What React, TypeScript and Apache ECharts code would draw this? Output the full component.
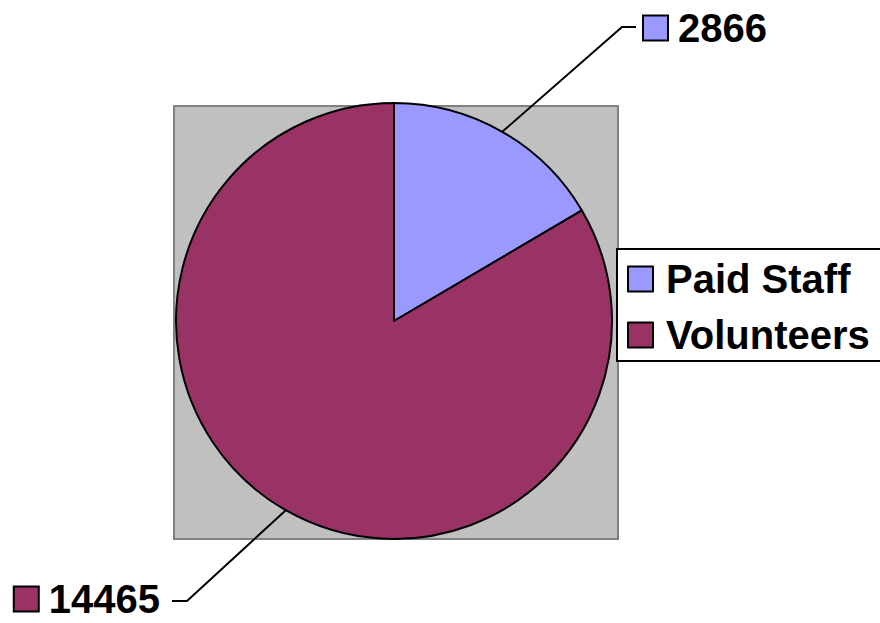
import React, { useEffect, useRef } from "react";
import * as echarts from "echarts";

const categories = ["Paid Staff", "Volunteers"];
const values = [2866, 14465];
const colors = ["#9999FF", "#993366"];

const FONT = "'Liberation Sans', Arial, sans-serif";

export default function App() {
  const ref = useRef<HTMLDivElement>(null);
  useEffect(() => {
    if (!ref.current) return;
    const chart = echarts.init(ref.current, null, { renderer: "svg" });
    const data = categories.map((name, i) => ({
      name,
      value: values[i],
      itemStyle: { color: colors[i] },
    }));
    const rich: any = {
      gap: { width: 11 },
      v: { fontSize: 40, fontWeight: "bold", color: "#000", fontFamily: FONT, lineHeight: 36 },
    };
    colors.forEach((c, i) => {
      rich["sq" + i] = {
        width: 23,
        height: 23,
        backgroundColor: c,
        borderColor: "#000",
        borderWidth: 2,
      };
    });
    chart.setOption({
      animation: false,
      backgroundColor: "#fff",
      graphic: [
        {
          type: "rect",
          left: 173,
          top: 105,
          shape: { width: 444, height: 433 },
          style: { fill: "#C0C0C0", stroke: "#808080", lineWidth: 2 },
          z: -10,
        },
      ],
      legend: {
        orient: "vertical",
        left: 617,
        top: 249,
        padding: [10, 12, 6, 10],
        backgroundColor: "#fff",
        borderColor: "#000",
        borderWidth: 2,
        itemWidth: 25,
        itemHeight: 25,
        itemGap: 16,
        icon: "rect",
        itemStyle: { borderColor: "#000", borderWidth: 2 },
        textStyle: {
          fontSize: 40,
          fontWeight: "bold",
          color: "#000",
          fontFamily: FONT,
          lineHeight: 39,
          padding: [0, 0, 0, 8],
        },
        data: categories,
        z: 10,
      },
      series: [
        {
          type: "pie",
          center: [394, 321],
          radius: 218,
          startAngle: 90,
          clockwise: true,
          data,
          itemStyle: { borderColor: "#000", borderWidth: 2 },
          emphasis: { disabled: true },
          label: {
            show: true,
            formatter: (p: any) => `{sq${p.dataIndex}|}{gap|}{v|${p.value}}`,
            rich,
          },
          labelLine: {
            show: true,
            length: 20,
            length2: 15,
            lineStyle: { color: "#000", width: 2 },
          },
          labelLayout: (params: any) => {
            const start = params.labelLinePoints ? params.labelLinePoints[0] : null;
            if (params.dataIndex === 0) {
              return {
                x: 644,
                y: 28,
                align: "left",
                verticalAlign: "middle",
                labelLinePoints: start ? [start, [622, 27], [636, 27]] : undefined,
              };
            }
            return {
              x: 160,
              y: 599,
              align: "right",
              verticalAlign: "middle",
              labelLinePoints: start ? [start, [187, 601], [172, 601]] : undefined,
            };
          },
        },
      ],
    });
    return () => chart.dispose();
  }, []);
  return (
    <div
      ref={ref}
      style={{ position: "absolute", left: 0, top: 0, width: 880, height: 623 }}
    />
  );
}
